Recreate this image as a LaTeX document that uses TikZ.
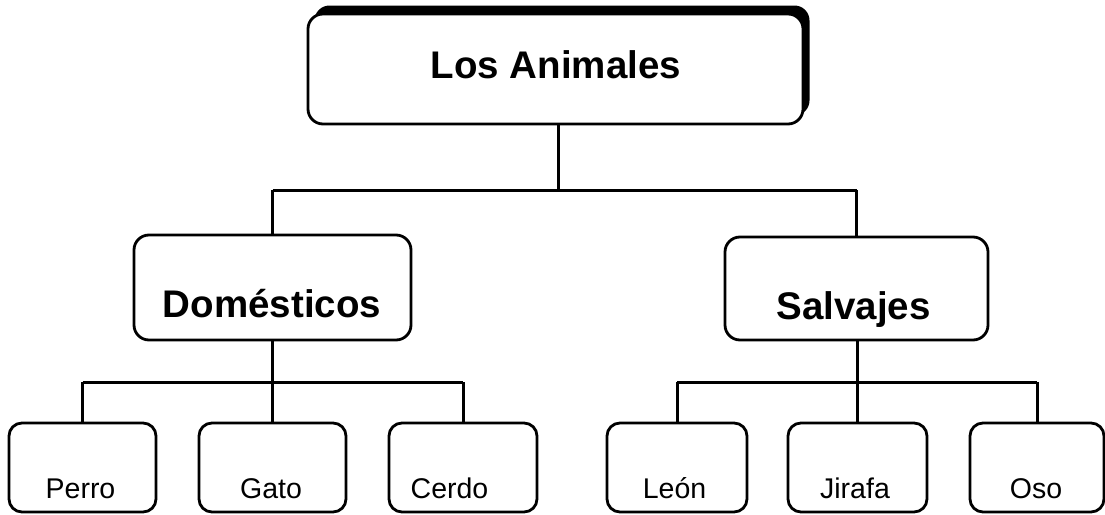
\documentclass[tikz,border=0pt]{standalone}
\usepackage{fontspec}
\setmainfont{Liberation Sans}
\usetikzlibrary{shadows}
\begin{document}
\begin{tikzpicture}[x=1pt,y=-1pt,
  box/.style={draw=black, fill=white, line width=2.8pt, rounded corners=15pt, inner sep=0pt, outer sep=0pt},
  leafbox/.style={box, rounded corners=13pt, minimum height=89pt},
  topbox/.style={box, drop shadow={shadow xshift=6.5pt, shadow yshift=8.5pt, fill=black, opacity=1}},
  bigtext/.style={anchor=base, inner sep=0pt, font=\fontsize{38.5pt}{40pt}\selectfont\bfseries},
  leaftext/.style={anchor=base, inner sep=0pt, font=\fontsize{28.5pt}{30pt}\selectfont},
  conn/.style={line width=3pt}]
\useasboundingbox (0,0) rectangle (1105,514);

% boxes
\node[topbox, minimum width=495pt, minimum height=110pt] (top) at (555.5,69) {};
\node[box, minimum width=277pt, minimum height=105pt] (dom) at (272.5,287.5) {};
\node[box, minimum width=263pt, minimum height=103pt] (sal) at (856.5,288.5) {};
\node[leafbox, minimum width=147pt] (perro) at (82.5,467.5) {};
\node[leafbox, minimum width=147pt] (gato) at (272.5,467.5) {};
\node[leafbox, minimum width=148pt] (cerdo) at (463,467.5) {};
\node[leafbox, minimum width=140pt] (leon) at (677,467.5) {};
\node[leafbox, minimum width=139pt] (jirafa) at (857.5,467.5) {};
\node[leafbox, minimum width=134pt] (oso) at (1037,467.5) {};

% texts
\node[bigtext] (topt) at (556,78) {Los Animales};
\node[bigtext] (domt) at (272,317) {Domésticos};
\node[bigtext] (salt) at (853.5,319) {Salvajes};
\node[leaftext] (perrot) at (80.5,498) {Perro};
\node[leaftext] (gatot) at (271,498) {Gato};
\node[leaftext] (cerdot) at (449.5,498) {Cerdo};
\node[leaftext] (leont) at (674.5,498) {León};
\node[leaftext] (jirafat) at (855,498) {Jirafa};
\node[leaftext] (osot) at (1036,498) {Oso};

% junctions
\coordinate (j0) at (558,190);
\coordinate (j1) at (273,382);
\coordinate (j2) at (857,382);

% connectors
\draw[conn] (top.south -| j0) -- (j0);
\draw[conn] (j0 -| dom.north) -- (j0 -| sal.north);
\draw[conn] (j0 -| dom.north) -- (dom.north);
\draw[conn] (j0 -| sal.north) -- (sal.north);

\draw[conn] (dom.south) -- (gato.north);
\draw[conn] (j1 -| perro.north) -- (j1 -| cerdo.north);
\draw[conn] (j1 -| perro.north) -- (perro.north);
\draw[conn] (j1 -| cerdo.north) -- (cerdo.north);

\draw[conn] (sal.south -| jirafa.north) -- (jirafa.north);
\draw[conn] (j2 -| leon.north) -- (j2 -| oso.north);
\draw[conn] (j2 -| leon.north) -- (leon.north);
\draw[conn] (j2 -| oso.north) -- (oso.north);
\end{tikzpicture}
\end{document}
